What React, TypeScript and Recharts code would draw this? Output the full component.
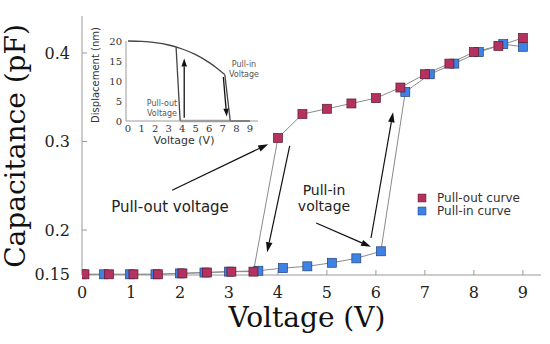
import React from 'react';
import { ComposedChart, LineChart, Line, XAxis, YAxis, ReferenceLine } from 'recharts';

// ---- main chart data ----
const pullOutVoltage = [0.05, 0.55, 1.05, 1.55, 2.05, 2.55, 3.05, 3.5, 4.0, 4.5, 5.0, 5.5, 6.0, 6.5, 7.0, 7.5, 8.0, 8.5, 9.0];
const pullOutCapacitance = [0.150, 0.150, 0.150, 0.150, 0.151, 0.152, 0.153, 0.153, 0.304, 0.331, 0.337, 0.343, 0.349, 0.361, 0.376, 0.388, 0.401, 0.408, 0.417];
const pullInVoltage = [0.0, 0.45, 0.98, 1.5, 2.0, 2.5, 3.0, 3.6, 4.1, 4.6, 5.1, 5.6, 6.1, 6.6, 7.1, 7.6, 8.1, 8.6, 9.0];
const pullInCapacitance = [0.150, 0.150, 0.150, 0.150, 0.151, 0.152, 0.153, 0.154, 0.157, 0.159, 0.163, 0.168, 0.176, 0.356, 0.376, 0.388, 0.401, 0.410, 0.407];
const voltageTicks = [0, 1, 2, 3, 4, 5, 6, 7, 8, 9];
const capacitanceTicks = [0.15, 0.2, 0.3, 0.4];
const seriesNames = ['Pull-out curve', 'Pull-in curve'];
const seriesColors = ['#b3325f', '#3f82e4'];
const seriesEdges = ['#5e1830', '#1d427a'];

// annotation arrows [fromV, fromC, toV, toC]
const mainArrows = [
  [1.84, 0.245, 3.80, 0.297],
  [4.24, 0.295, 3.78, 0.175],
  [4.78, 0.208, 5.90, 0.181],
  [5.90, 0.191, 6.35, 0.333],
];

// ---- inset data (displacement vs voltage) ----
const insetBranchV = [0, 1, 2, 3, 4, 5, 6, 6.5, 7, 7.15];
const insetBranchD = [20, 19.9, 19.6, 19.0, 18.0, 16.6, 14.6, 13.4, 12.0, 11.6];
const insetDropV = [7.15, 7.55];
const insetDropD = [11.6, 0];
const insetRiseV = [3.85, 3.55];
const insetRiseD = [0, 18.4];
const insetFloorV = [3.85, 7.55];
const insetFloorD = [0, 0];
const insetTailV = [7.55, 9];
const insetTailD = [0, 0];
const insetTicksV = [0, 1, 2, 3, 4, 5, 6, 7, 8, 9];
const insetTicksD = [0, 5, 10, 15, 20];
const insetArrows = [
  [4.15, 0.8, 4.15, 15.6],
  [7.04, 11.0, 7.29, 1.1],
];

const zip = (xs: number[], ys: number[]) => xs.map((x, i) => ({ x, y: ys[i] }));

const pullOutData = zip(pullOutVoltage, pullOutCapacitance);
const pullInData = zip(pullInVoltage, pullInCapacitance);

const makeSquare = (fill: string, edge: string) => (props: any) => {
  const { cx, cy, index } = props;
  if (cx == null || cy == null) return <g key={`n${index}`} />;
  return (
    <rect key={`sq${index}`} x={cx - 4.5} y={cy - 4.5} width={9} height={9} fill={fill} stroke={edge} strokeWidth={0.7} />
  );
};

const makeArrow = (head: number, headW: number, sw: number) => (p: any) => {
  const { x1, y1, x2, y2 } = p;
  const dx = x2 - x1;
  const dy = y2 - y1;
  const len = Math.hypot(dx, dy) || 1;
  const ux = dx / len;
  const uy = dy / len;
  const bx = x2 - ux * head;
  const by = y2 - uy * head;
  const px = (-uy * headW) / 2;
  const py = (ux * headW) / 2;
  return (
    <g>
      <line x1={x1} y1={y1} x2={bx} y2={by} stroke="#111" strokeWidth={sw} />
      <polygon points={`${x2},${y2} ${bx + px},${by + py} ${bx - px},${by - py}`} fill="#111" />
    </g>
  );
};

const mainArrowShape = makeArrow(10, 6.5, 1.2);
const insetArrowShape = makeArrow(8, 5.5, 1.3);

const frame = '#9a9a9a';
const serif = 'DejaVu Serif';
const sans = 'DejaVu Sans';

export default function App() {
  return (
    <div style={{ position: 'absolute', left: 0, top: 0, width: 550, height: 344, background: '#fff' }}>
      <ComposedChart width={550} height={344} margin={{ top: 16, right: 9, left: 0, bottom: 0 }}>
        <XAxis
          xAxisId="main"
          dataKey="x"
          type="number"
          domain={[0, 9.37]}
          ticks={voltageTicks}
          allowDataOverflow
          height={69}
          tickSize={-5}
          tickMargin={17}
          axisLine={{ stroke: frame }}
          tickLine={{ stroke: frame }}
          tick={{ fill: '#222', fontFamily: serif, fontSize: 16 }}
        />
        <XAxis
          xAxisId="top"
          orientation="top"
          type="number"
          domain={[0, 9.37]}
          ticks={voltageTicks}
          height={0}
          tickSize={-5}
          tick={false}
          axisLine={{ stroke: frame }}
          tickLine={{ stroke: frame }}
        />
        <YAxis
          yAxisId="main"
          type="number"
          domain={[0.1492, 0.4418]}
          ticks={capacitanceTicks}
          width={82}
          tickSize={-5}
          tickMargin={17}
          axisLine={{ stroke: frame }}
          tickLine={{ stroke: frame }}
          tick={{ fill: '#222', fontFamily: serif, fontSize: 16 }}
        />
        <YAxis
          yAxisId="right"
          orientation="right"
          type="number"
          domain={[0.1492, 0.4418]}
          ticks={capacitanceTicks}
          width={0}
          tickSize={-5}
          tick={false}
          axisLine={{ stroke: frame }}
          tickLine={{ stroke: frame }}
        />
        {mainArrows.map((a, i) => (
          <ReferenceLine
            key={`ma${i}`}
            xAxisId="main"
            yAxisId="main"
            ifOverflow="visible"
            segment={[{ x: a[0], y: a[1] }, { x: a[2], y: a[3] }]}
            shape={mainArrowShape}
          />
        ))}
        <Line
          xAxisId="main"
          yAxisId="main"
          data={pullInData}
          dataKey="y"
          name={seriesNames[1]}
          stroke="#8a8a8a"
          strokeWidth={1}
          dot={makeSquare(seriesColors[1], seriesEdges[1])}
          activeDot={false}
          isAnimationActive={false}
        />
        <Line
          xAxisId="main"
          yAxisId="main"
          data={pullOutData}
          dataKey="y"
          name={seriesNames[0]}
          stroke="#8a8a8a"
          strokeWidth={1}
          dot={makeSquare(seriesColors[0], seriesEdges[0])}
          activeDot={false}
          isAnimationActive={false}
        />
      </ComposedChart>

      <div style={{ position: 'absolute', left: 80, top: 30, width: 190, height: 121, background: 'transparent' }}>
        <LineChart width={190} height={121} margin={{ top: 11, right: 12, left: 0, bottom: 0 }}>
          <XAxis
            dataKey="x"
            type="number"
            domain={[-0.15, 9.6]}
            ticks={insetTicksV}
            height={30}
            tickSize={0}
            tickMargin={4}
            tickLine={false}
            axisLine={{ stroke: frame }}
            tick={{ fill: '#333', fontFamily: serif, fontSize: 10 }}
          />
          <XAxis xAxisId="top" orientation="top" type="number" domain={[-0.15, 9.6]} height={0} tick={false} tickLine={false} axisLine={{ stroke: frame }} />
          <YAxis
            type="number"
            domain={[0, 20]}
            ticks={insetTicksD}
            width={46}
            tickSize={0}
            tickMargin={4}
            tickLine={false}
            axisLine={{ stroke: frame }}
            tick={{ fill: '#333', fontFamily: serif, fontSize: 10 }}
          />
          <YAxis yAxisId="right" orientation="right" type="number" domain={[0, 20]} width={0} tick={false} tickLine={false} axisLine={{ stroke: frame }} />
          <Line data={zip(insetFloorV, insetFloorD)} dataKey="y" stroke="#a0a0a0" strokeWidth={2.5} dot={false} activeDot={false} isAnimationActive={false} />
          <Line data={zip(insetTailV, insetTailD)} dataKey="y" stroke="#333" strokeWidth={1.5} dot={false} activeDot={false} isAnimationActive={false} />
          <Line data={zip(insetBranchV, insetBranchD)} dataKey="y" type="monotone" stroke="#444" strokeWidth={1.3} dot={false} activeDot={false} isAnimationActive={false} />
          <Line data={zip(insetDropV, insetDropD)} dataKey="y" stroke="#444" strokeWidth={1.3} dot={false} activeDot={false} isAnimationActive={false} />
          <Line data={zip(insetRiseV, insetRiseD)} dataKey="y" stroke="#444" strokeWidth={1.3} dot={false} activeDot={false} isAnimationActive={false} />
          {insetArrows.map((a, i) => (
            <ReferenceLine
              key={`ia${i}`}
              ifOverflow="visible"
              segment={[{ x: a[0], y: a[1] }, { x: a[2], y: a[3] }]}
              shape={insetArrowShape}
            />
          ))}
        </LineChart>
      </div>

      <svg width={550} height={344} style={{ position: 'absolute', left: 0, top: 0, pointerEvents: 'none' }}>
        <text x={25} y={146} transform="rotate(-90 25 146)" textAnchor="middle" fontFamily={serif} fontSize={28} fill="#111">Capacitance (pF)</text>
        <text x={307} y={327} textAnchor="middle" fontFamily={serif} fontSize={28} fill="#111">Voltage (V)</text>
        <text x={170} y={212} textAnchor="middle" fontFamily={sans} fontSize={15} fill="#222">Pull-out voltage</text>
        <text x={324} y={195} textAnchor="middle" fontFamily={sans} fontSize={14} fill="#222">Pull-in</text>
        <text x={324} y={211} textAnchor="middle" fontFamily={sans} fontSize={14} fill="#222">voltage</text>
        <text x={99} y={75} transform="rotate(-90 99 75)" textAnchor="middle" fontFamily={sans} fontSize={10} fill="#333">Displacement (nm)</text>
        <text x={184} y={144} textAnchor="middle" fontFamily={sans} fontSize={11} fill="#333">Voltage (V)</text>
        <text x={162} y={106} textAnchor="middle" fontFamily={sans} fontSize={8} fill="#555">Pull-out</text>
        <text x={162} y={116} textAnchor="middle" fontFamily={sans} fontSize={8} fill="#555">Voltage</text>
        <text x={244} y={67} textAnchor="middle" fontFamily={sans} fontSize={8} fill="#555">Pull-in</text>
        <text x={244} y={77} textAnchor="middle" fontFamily={sans} fontSize={8} fill="#555">Voltage</text>
        {seriesNames.map((n, i) => (
          <g key={n}>
            <rect x={418} y={194 + i * 13} width={8} height={8} fill={seriesColors[i]} stroke={seriesEdges[i]} strokeWidth={0.5} />
            <text x={437} y={202.4 + i * 13} fontFamily={sans} fontSize={12} fill="#333">{n}</text>
          </g>
        ))}
      </svg>
    </div>
  );
}
